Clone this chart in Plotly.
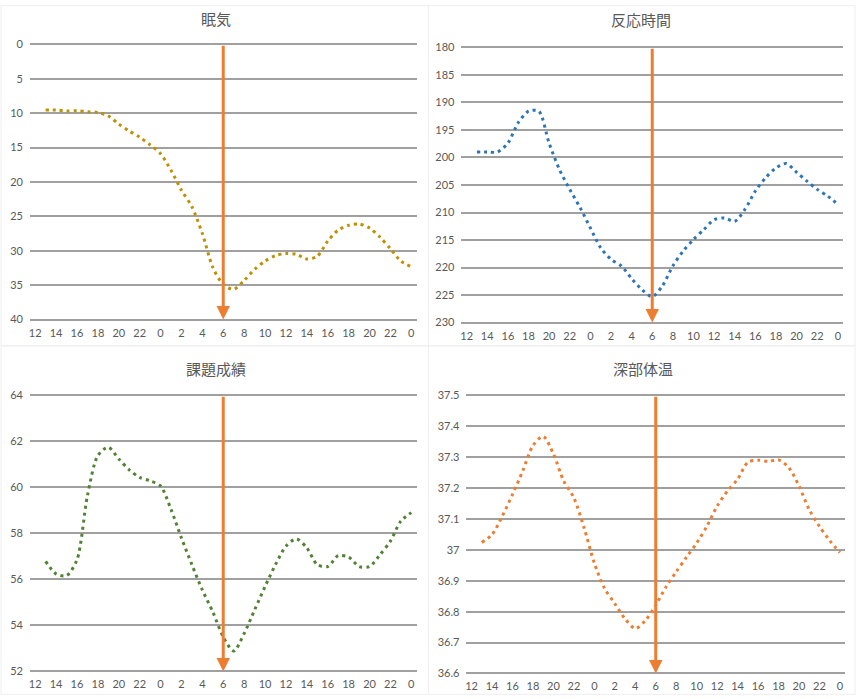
import plotly.graph_objects as go

hours = list(range(13, 49))
tick_hours = list(range(12, 49, 2))
tick_labels = [str(h % 24) for h in tick_hours]

sleepiness = [9.55, 9.55, 9.7, 9.65, 9.8, 9.9, 10.4, 11.6, 12.6, 13.5, 14.6, 15.9,
              18.3, 21.2, 23.6, 27.5, 32.4, 34.9, 35.6, 34.3, 32.7, 31.5, 30.7, 30.4,
              30.5, 31.2, 30.8, 28.6, 27.0, 26.3, 26.1, 26.7, 28.0, 29.7, 31.5, 32.3]
reaction = [199.0, 199.0, 199.0, 197.4, 193.7, 191.6, 191.6, 197.4, 202.2, 205.8, 209.1, 212.8,
            216.4, 218.5, 219.7, 222.0, 224.0, 225.3, 223.3, 219.7, 217.0, 214.9, 213.1, 211.3,
            211.0, 211.6, 209.4, 206.1, 203.7, 201.9, 201.1, 202.7, 204.3, 205.8, 207.0, 208.5]
task = [56.78, 56.24, 56.16, 56.85, 59.63, 61.38, 61.74, 61.23, 60.76, 60.43, 60.28, 60.06,
        59.04, 57.80, 56.64, 55.54, 54.59, 53.50, 52.89, 53.65, 54.67, 55.69, 56.64, 57.44,
        57.76, 57.37, 56.64, 56.56, 57.03, 56.97, 56.56, 56.56, 57.07, 57.66, 58.53, 58.90]
core_temp = [37.024, 37.049, 37.109, 37.179, 37.255, 37.337, 37.367, 37.310, 37.223, 37.168, 37.071, 36.957,
             36.875, 36.826, 36.777, 36.745, 36.772, 36.821, 36.880, 36.929, 36.976, 37.022, 37.076, 37.141,
             37.190, 37.228, 37.283, 37.290, 37.286, 37.291, 37.266, 37.207, 37.130, 37.076, 37.030, 36.991]

titles = ["眠気", "反応時間", "課題成績", "深部体温"]
series = [sleepiness, reaction, task, core_temp]
colors = ["#BF9000", "#2E75B6", "#548235", "#ED7D31"]
# (value at bottom of plot, value at top of plot)
y_ranges = [(40, 0), (230, 180), (52, 64), (36.6, 37.5)]
y_dticks = [5, 5, 2, 0.1]
wake_hour = 30

W, H = 858, 699
# plot areas in target pixels: (left, right, top, bottom)
areas = [(29, 416, 47, 320), (461, 843, 50, 323), (29, 416, 395, 669), (466, 845, 395, 671)]
title_pos = [(215, 21), (641, 22), (215, 369), (643, 369)]
chart_boxes = [(0, 428, 2, 346), (428, 855, 2, 346), (0, 428, 346, 697), (428, 855, 346, 697)]
EDGE = 2  # px of padding so edge gridlines are kept


def fy(v):
    # compensate the vertical placement seen in the rendered page
    return (v - 8) / 0.979


def py(v):
    return 1 - v / H


fig = go.Figure()
layout = dict(width=W, height=H, margin=dict(l=0, r=0, t=0, b=0),
              paper_bgcolor="white", plot_bgcolor="white", showlegend=False,
              font=dict(family="Lato, Noto Sans CJK JP", color="#595959", size=11))
annotations = []
shapes = []
for i in range(4):
    n = "" if i == 0 else str(i + 1)
    xa, ya = "x" + n, "y" + n
    fig.add_trace(go.Scatter(x=hours, y=series[i], mode="lines", xaxis=xa, yaxis=ya,
                             line=dict(color=colors[i], width=3, dash="3px,4px",
                                       shape="spline", smoothing=0.8)))
    l, r, t, b = areas[i]
    t, b = fy(t), fy(b)
    vb, vt = y_ranges[i]
    upp = (vt - vb) / (b - t)
    layout["xaxis" + n] = dict(domain=[l / W, r / W], anchor=ya, range=[11.5, 48.5],
                               tickvals=tick_hours, ticktext=tick_labels, showgrid=False,
                               zeroline=False, showline=False, ticks="", ticklabelstandoff=3,
                               tickfont=dict(family="Lato", size=11, color="#595959"))
    layout["yaxis" + n] = dict(domain=[py(b + EDGE), py(t - EDGE)], anchor=xa,
                               range=[vb - EDGE * upp, vt + EDGE * upp],
                               dtick=y_dticks[i], showgrid=True, gridcolor="#a0a0a0", gridwidth=1.5,
                               zeroline=False, showline=False, ticks="", ticklabelstandoff=6,
                               tickfont=dict(family="Lato", size=11, color="#595959"))
    tx, ty = title_pos[i]
    annotations.append(dict(text=titles[i], x=tx / W, y=py(fy(ty)), xref="paper", yref="paper",
                            showarrow=False, xanchor="center", yanchor="middle",
                            font=dict(size=15, color="#595959", family="Noto Sans CJK JP")))
    annotations.append(dict(x=wake_hour, y=vb, ax=wake_hour, ay=vt, xref=xa, yref=ya,
                            axref=xa, ayref=ya, text="", showarrow=True, arrowhead=2,
                            arrowsize=0.9, arrowwidth=3, arrowcolor="#ED7D31", standoff=0))
    bl, br, bt, bb = chart_boxes[i]
    shapes.append(dict(type="rect", xref="paper", yref="paper", x0=bl / W, x1=br / W,
                       y0=max(py(fy(bb)), 0.001), y1=min(py(fy(bt)), 0.999),
                       line=dict(color="#eeeeee", width=1), layer="below"))
layout["annotations"] = annotations
layout["shapes"] = shapes
fig.update_layout(**layout)
fig.write_html("out.html")
